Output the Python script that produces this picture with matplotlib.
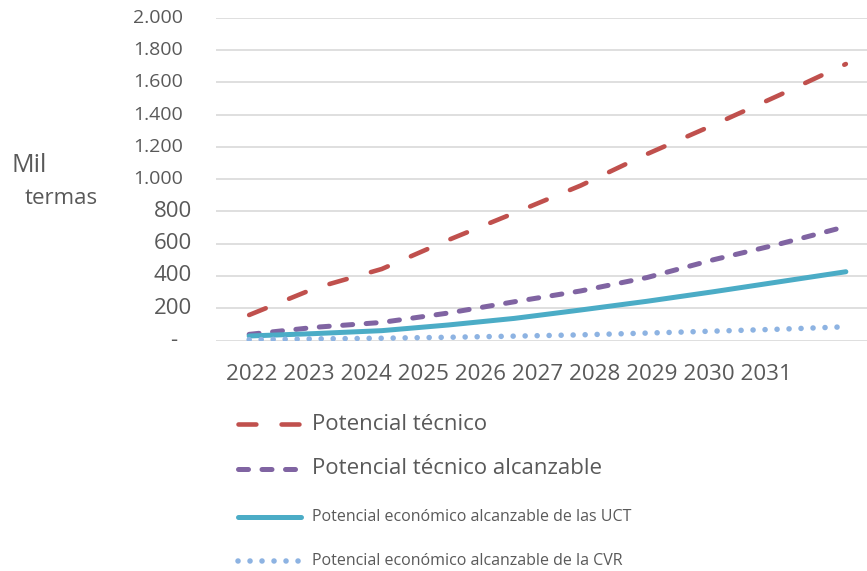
import matplotlib
matplotlib.use("Agg")
import matplotlib.pyplot as plt
from matplotlib.lines import Line2D

plt.rcParams['font.family'] = ['Open Sans', 'DejaVu Sans']

# Mil termas por año
years = [2022, 2023, 2024, 2025, 2026, 2027, 2028, 2029, 2030, 2031]
tecnico = [158, 325, 443, 622, 790, 960, 1155, 1335, 1521, 1713]
tecnico_alc = [38, 82, 112, 170, 240, 307, 390, 500, 598, 706]
economico_uct = [28, 43, 61, 96, 137, 189, 243, 302, 364, 426]
economico_cvr = [5, 10, 14, 20, 27, 35, 46, 58, 70, 85]

y_ticks = [0, 200, 400, 600, 800, 1000, 1200, 1400, 1600, 1800, 2000]

labels = ["Potencial técnico",
          "Potencial técnico alcanzable",
          "Potencial económico alcanzable de las UCT",
          "Potencial económico alcanzable de la CVR"]

TEXT = '#595959'
W, H = 867, 571

styles = [
    dict(color='#C0504D', lw=3.3, dashes=(3.9, 5.5), dash_capstyle='round'),
    dict(color='#8064A2', lw=3.6, dashes=(2.0, 2.7), dash_capstyle='round'),
    dict(color='#4BACC6', lw=3.6, solid_capstyle='round'),
    dict(color='#8DB3E2', lw=4.0, dashes=(0.01, 2.15), dash_capstyle='round'),
]

fig = plt.figure(figsize=(W / 100, H / 100), dpi=100)
ax = fig.add_axes([216 / W, 1 - 340.5 / H, 663 / W, (340.5 - 17.7) / H])

x = list(range(len(years)))
for vals, st in zip([tecnico, tecnico_alc, economico_uct, economico_cvr], styles):
    ax.plot(x, vals, **st)

ax.set_xlim(-0.5, len(years) - 0.5)
ax.set_ylim(0, 2000)
ax.set_yticks(y_ticks)
ax.set_xticks([])
ax.yaxis.grid(True, color='#D9D9D9', lw=1.2)
ax.set_axisbelow(True)
ax.tick_params(axis='y', length=0, labelleft=False)
for s in ax.spines.values():
    s.set_visible(False)

# etiquetas del eje y con separador de miles
for v in y_ticks:
    if v == 0:
        txt, size, dx = '-', 16, -39
    elif v >= 1000:
        txt, size, dx = f"{v:,}".replace(',', '.'), 14, -33
    else:
        txt, size, dx = str(v), 16, -24
    ax.annotate(txt, xy=(0, v), xycoords=('axes fraction', 'data'),
                xytext=(dx, 0), textcoords='offset pixels',
                ha='right', va='center', fontsize=size, color=TEXT)

fig.text(11 / W, 1 - 172 / H, "Mil", fontsize=18, color=TEXT, va='baseline')
fig.text(25 / W, 1 - 204 / H, "termas", fontsize=16, color=TEXT, va='baseline')

fig.text(226 / W, 1 - 380 / H, " ".join(str(y) for y in years),
         fontsize=16.1, color=TEXT, va='baseline', ha='left')

# leyenda
rows = [424, 469, 517, 561]
sizes = [16, 16, 11.5, 11.5]
for yy, lab, st, fs in zip(rows, labels, styles, sizes):
    yf = 1 - yy / H
    fig.add_artist(Line2D([238 / W, 301 / W], [yf, yf], transform=fig.transFigure, **st))
    fig.text(312 / W, yf, lab, fontsize=fs, color=TEXT, va='center', ha='left')

fig.savefig("out.png", dpi=100)
